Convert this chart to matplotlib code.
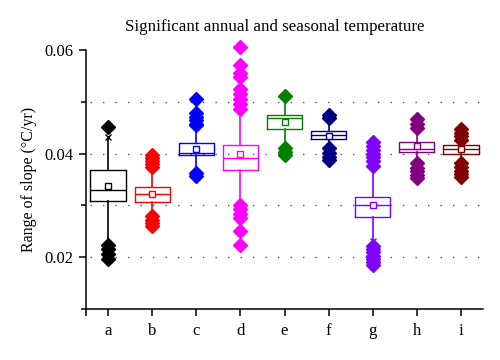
import matplotlib
matplotlib.use('Agg')
import matplotlib.pyplot as plt

plt.rcParams['font.family'] = ['Liberation Serif', 'DejaVu Serif']

# Data (slope ranges, degC/yr)
labels = ['a', 'b', 'c', 'd', 'e', 'f', 'g', 'h', 'i']
colors = ['#000000', '#ff0000', '#0000ff', '#ff00ff', '#008000',
          '#000080', '#8000ff', '#800080', '#800000']
q1 = [0.0309, 0.0307, 0.0397, 0.0368, 0.0448, 0.0429, 0.0277, 0.0403, 0.0400]
med = [0.0330, 0.0321, 0.0402, 0.0391, 0.0468, 0.0435, 0.0300, 0.0409, 0.0408]
q3 = [0.0368, 0.0335, 0.0420, 0.0416, 0.0474, 0.0444, 0.0317, 0.0422, 0.0416]
means = [0.0337, 0.0321, 0.0409, 0.0399, 0.0461, 0.0434, 0.0301, 0.0414, 0.0409]
whis_lo = [0.0232, 0.0282, 0.0365, 0.0300, 0.0412, 0.0412, 0.0232, 0.0382, 0.0382]
whis_hi = [0.0432, 0.0372, 0.0453, 0.0484, 0.0510, 0.0466, 0.0374, 0.0449, 0.0427]
outliers = [
    [0.0452, 0.0224, 0.0215, 0.0206, 0.0197],
    [0.0397, 0.0391, 0.0386, 0.0380, 0.0375, 0.0279, 0.0272, 0.0266, 0.0260],
    [0.0506, 0.0478, 0.0471, 0.0464, 0.0458, 0.0455, 0.0362, 0.0356],
    [0.0606, 0.0572, 0.0556, 0.0547, 0.0524, 0.0515, 0.0505, 0.0495, 0.0486,
     0.0300, 0.0292, 0.0284, 0.0276, 0.0251, 0.0224],
    [0.0512, 0.0411, 0.0404, 0.0398],
    [0.0474, 0.0468, 0.0411, 0.0401, 0.0394, 0.0388],
    [0.0422, 0.0415, 0.0407, 0.0400, 0.0393, 0.0386, 0.0376,
     0.0222, 0.0215, 0.0209, 0.0202, 0.0196, 0.0190, 0.0184],
    [0.0466, 0.0458, 0.0449, 0.0381, 0.0373, 0.0366, 0.0359, 0.0352],
    [0.0447, 0.0440, 0.0433, 0.0427, 0.0381, 0.0374, 0.0367, 0.0360, 0.0355],
]
# 1%/99% crosses visible at whisker ends
cross_idx = [0, 6]
cross_val = [0.0432, 0.0232]

stats = []
for k in range(len(labels)):
    stats.append(dict(label=labels[k], q1=q1[k], med=med[k], q3=q3[k],
                      mean=means[k], whislo=whis_lo[k], whishi=whis_hi[k],
                      fliers=outliers[k]))

fig = plt.figure(figsize=(5, 3.6), dpi=100)
ax = fig.add_axes([0.172, 0.142, 0.794, 0.719])

pos = list(range(1, len(labels) + 1))
ax.hlines([0.02, 0.03, 0.04, 0.05], 0.6, 9.5, colors='#555555',
          linestyles=(0, (1, 8)), lw=1.0, zorder=0)

bp = ax.bxp(stats, positions=pos, widths=0.8, showmeans=True,
            showcaps=False, patch_artist=False,
            flierprops=dict(marker='D', markersize=6.8, clip_on=False),
            meanprops=dict(marker='s', markersize=4.2, markerfacecolor='white'))

for k, c in enumerate(colors):
    bp['boxes'][k].set(color=c, lw=1.0)
    bp['medians'][k].set(color=c, lw=1.0)
    bp['whiskers'][2 * k].set(color=c, lw=1.2)
    bp['whiskers'][2 * k + 1].set(color=c, lw=1.2)
    bp['fliers'][k].set(markerfacecolor=c, markeredgecolor=c)
    bp['means'][k].set(markeredgecolor=c, markeredgewidth=1.0)

for k, v in zip(cross_idx, cross_val):
    ax.plot(pos[k], v, marker='x', ms=4, color=colors[k], mew=1.0)

ax.set_xlim(0.5, 9.5)
ax.set_ylim(0.01, 0.06)
ax.set_yticks([0.02, 0.04, 0.06])
ax.set_yticklabels(['0.02', '0.04', '0.06'])
ax.set_yticks([0.01, 0.03, 0.05], minor=True)
ax.set_xticks(pos)
ax.set_xticklabels(labels)
ax.set_xticks([0.5], minor=True)

for s in ['top', 'right']:
    ax.spines[s].set_visible(False)
for s in ['left', 'bottom']:
    ax.spines[s].set_linewidth(1.1)

ax.tick_params(axis='y', which='major', direction='out', length=5, width=1.1,
               labelsize=12, pad=4)
ax.tick_params(axis='y', which='minor', direction='out', length=3.5, width=1.1)
ax.tick_params(axis='x', which='both', direction='out', length=5, width=1.1,
               labelsize=12, pad=5)

ax.set_ylabel('Range of slope (°C/yr)', fontsize=11.5, labelpad=5)
fig.text(0.55, 0.925, 'Significant annual and seasonal temperature',
         ha='center', va='center', fontsize=12.2)

fig.savefig('out.png', dpi=100)
